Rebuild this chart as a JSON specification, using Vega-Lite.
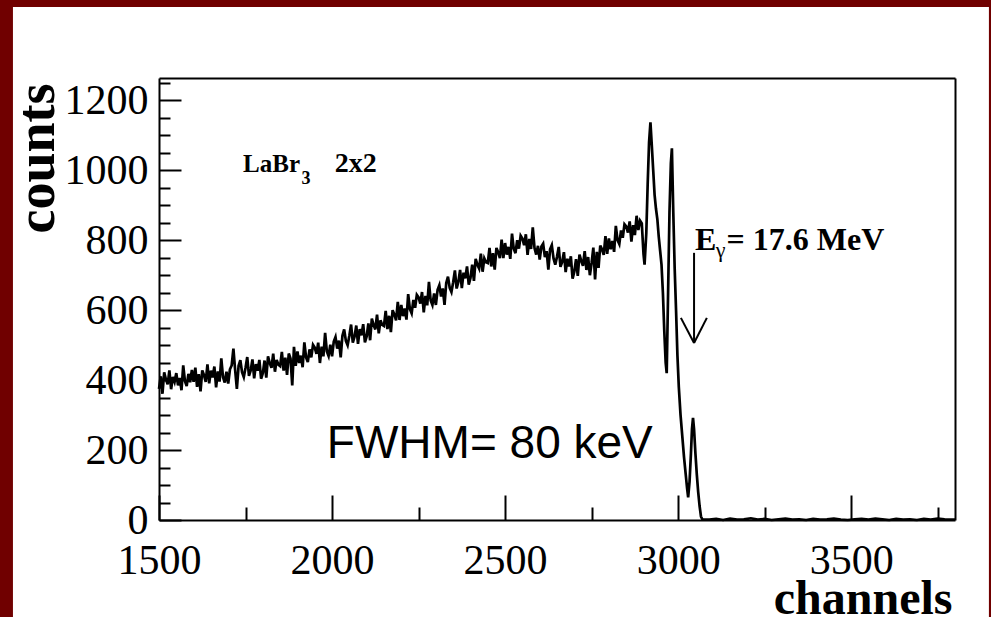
{
  "$schema": "https://vega.github.io/schema/vega-lite/v6.json",
  "width": 796,
  "height": 442,
  "autosize": "none",
  "padding": {"left": 159, "top": 78, "right": 36, "bottom": 97},
  "background": "#700000",
  "config": {
    "view": {"stroke": null},
    "axis": {
      "grid": false,
      "domainColor": "black",
      "tickColor": "black",
      "labelColor": "black",
      "titleColor": "black",
      "domainWidth": 2,
      "tickWidth": 2,
      "labelFont": "Liberation Serif",
      "labelFontSize": 42,
      "labelFlush": false,
      "labelOverlap": false,
      "titleFont": "Liberation Serif",
      "titleFontWeight": "bold"
    }
  },
  "datasets": {
    "spectrum": [
      {"ch":1500,"n":375},{"ch":1505,"n":411},{"ch":1510,"n":361},{"ch":1515,"n":422},{"ch":1520,"n":402},{"ch":1525,"n":388},{"ch":1530,"n":428},{"ch":1535,"n":374},{"ch":1540,"n":409},{"ch":1545,"n":395},
      {"ch":1550,"n":420},{"ch":1555,"n":385},{"ch":1560,"n":406},{"ch":1565,"n":371},{"ch":1570,"n":442},{"ch":1575,"n":397},{"ch":1580,"n":383},{"ch":1585,"n":418},{"ch":1590,"n":394},{"ch":1595,"n":429},
      {"ch":1600,"n":395},{"ch":1605,"n":436},{"ch":1610,"n":381},{"ch":1615,"n":417},{"ch":1620,"n":368},{"ch":1625,"n":428},{"ch":1630,"n":414},{"ch":1635,"n":395},{"ch":1640,"n":445},{"ch":1645,"n":391},
      {"ch":1650,"n":427},{"ch":1655,"n":408},{"ch":1660,"n":439},{"ch":1665,"n":379},{"ch":1670,"n":425},{"ch":1675,"n":396},{"ch":1680,"n":462},{"ch":1685,"n":408},{"ch":1690,"n":393},{"ch":1695,"n":424},
      {"ch":1700,"n":390},{"ch":1705,"n":431},{"ch":1710,"n":442},{"ch":1715,"n":490},{"ch":1720,"n":429},{"ch":1725,"n":375},{"ch":1730,"n":441},{"ch":1735,"n":457},{"ch":1740,"n":423},{"ch":1745,"n":409},
      {"ch":1750,"n":435},{"ch":1755,"n":466},{"ch":1760,"n":412},{"ch":1765,"n":428},{"ch":1770,"n":459},{"ch":1775,"n":405},{"ch":1780,"n":446},{"ch":1785,"n":427},{"ch":1790,"n":458},{"ch":1795,"n":404},
      {"ch":1800,"n":420},{"ch":1805,"n":456},{"ch":1810,"n":407},{"ch":1815,"n":468},{"ch":1820,"n":449},{"ch":1825,"n":435},{"ch":1830,"n":476},{"ch":1835,"n":424},{"ch":1840,"n":458},{"ch":1845,"n":444},
      {"ch":1850,"n":440},{"ch":1855,"n":481},{"ch":1860,"n":427},{"ch":1865,"n":464},{"ch":1870,"n":415},{"ch":1875,"n":476},{"ch":1880,"n":462},{"ch":1885,"n":385},{"ch":1890,"n":495},{"ch":1895,"n":441},
      {"ch":1900,"n":482},{"ch":1905,"n":449},{"ch":1910,"n":470},{"ch":1915,"n":437},{"ch":1920,"n":508},{"ch":1925,"n":465},{"ch":1930,"n":452},{"ch":1935,"n":488},{"ch":1940,"n":465},{"ch":1945,"n":501},
      {"ch":1950,"n":493},{"ch":1955,"n":475},{"ch":1960,"n":507},{"ch":1965,"n":449},{"ch":1970,"n":496},{"ch":1975,"n":468},{"ch":1980,"n":535},{"ch":1985,"n":482},{"ch":1990,"n":469},{"ch":1995,"n":501},
      {"ch":2000,"n":468},{"ch":2005,"n":510},{"ch":2010,"n":523},{"ch":2015,"n":490},{"ch":2020,"n":513},{"ch":2025,"n":465},{"ch":2030,"n":527},{"ch":2035,"n":545},{"ch":2040,"n":512},{"ch":2045,"n":500},
      {"ch":2050,"n":527},{"ch":2055,"n":559},{"ch":2060,"n":507},{"ch":2065,"n":524},{"ch":2070,"n":556},{"ch":2075,"n":504},{"ch":2080,"n":546},{"ch":2085,"n":528},{"ch":2090,"n":560},{"ch":2095,"n":508},
      {"ch":2100,"n":525},{"ch":2105,"n":562},{"ch":2110,"n":514},{"ch":2115,"n":576},{"ch":2120,"n":558},{"ch":2125,"n":545},{"ch":2130,"n":587},{"ch":2135,"n":534},{"ch":2140,"n":571},{"ch":2145,"n":558},
      {"ch":2150,"n":555},{"ch":2155,"n":598},{"ch":2160,"n":546},{"ch":2165,"n":584},{"ch":2170,"n":537},{"ch":2175,"n":600},{"ch":2180,"n":588},{"ch":2185,"n":571},{"ch":2190,"n":624},{"ch":2195,"n":572},
      {"ch":2200,"n":615},{"ch":2205,"n":583},{"ch":2210,"n":605},{"ch":2215,"n":573},{"ch":2220,"n":646},{"ch":2225,"n":603},{"ch":2230,"n":591},{"ch":2235,"n":629},{"ch":2240,"n":607},{"ch":2245,"n":644},
      {"ch":2250,"n":637},{"ch":2255,"n":619},{"ch":2260,"n":652},{"ch":2265,"n":594},{"ch":2270,"n":641},{"ch":2275,"n":614},{"ch":2280,"n":681},{"ch":2285,"n":628},{"ch":2290,"n":615},{"ch":2295,"n":648},
      {"ch":2300,"n":615},{"ch":2305,"n":658},{"ch":2310,"n":671},{"ch":2315,"n":639},{"ch":2320,"n":662},{"ch":2325,"n":615},{"ch":2330,"n":678},{"ch":2335,"n":696},{"ch":2340,"n":664},{"ch":2345,"n":652},
      {"ch":2350,"n":680},{"ch":2355,"n":714},{"ch":2360,"n":662},{"ch":2365,"n":681},{"ch":2370,"n":715},{"ch":2375,"n":663},{"ch":2380,"n":707},{"ch":2385,"n":691},{"ch":2390,"n":725},{"ch":2395,"n":673},
      {"ch":2400,"n":692},{"ch":2405,"n":730},{"ch":2410,"n":684},{"ch":2415,"n":747},{"ch":2420,"n":730},{"ch":2425,"n":719},{"ch":2430,"n":762},{"ch":2435,"n":710},{"ch":2440,"n":748},{"ch":2445,"n":737},
      {"ch":2450,"n":735},{"ch":2455,"n":778},{"ch":2460,"n":725},{"ch":2465,"n":763},{"ch":2470,"n":716},{"ch":2475,"n":778},{"ch":2480,"n":766},{"ch":2485,"n":749},{"ch":2490,"n":802},{"ch":2495,"n":749},
      {"ch":2500,"n":792},{"ch":2505,"n":759},{"ch":2510,"n":781},{"ch":2515,"n":747},{"ch":2520,"n":819},{"ch":2525,"n":776},{"ch":2530,"n":763},{"ch":2535,"n":800},{"ch":2540,"n":776},{"ch":2545,"n":813},
      {"ch":2550,"n":805},{"ch":2555,"n":786},{"ch":2560,"n":817},{"ch":2565,"n":758},{"ch":2570,"n":804},{"ch":2575,"n":775},{"ch":2580,"n":837},{"ch":2585,"n":778},{"ch":2590,"n":759},{"ch":2595,"n":784},
      {"ch":2600,"n":745},{"ch":2605,"n":782},{"ch":2610,"n":790},{"ch":2615,"n":752},{"ch":2620,"n":769},{"ch":2625,"n":716},{"ch":2630,"n":774},{"ch":2635,"n":786},{"ch":2640,"n":748},{"ch":2645,"n":730},
      {"ch":2650,"n":753},{"ch":2655,"n":781},{"ch":2660,"n":724},{"ch":2665,"n":738},{"ch":2670,"n":766},{"ch":2675,"n":709},{"ch":2680,"n":747},{"ch":2685,"n":725},{"ch":2690,"n":754},{"ch":2695,"n":690},
      {"ch":2700,"n":710},{"ch":2705,"n":746},{"ch":2710,"n":698},{"ch":2715,"n":759},{"ch":2720,"n":741},{"ch":2725,"n":727},{"ch":2730,"n":769},{"ch":2735,"n":715},{"ch":2740,"n":752},{"ch":2745,"n":700},
      {"ch":2750,"n":735},{"ch":2755,"n":779},{"ch":2760,"n":688},{"ch":2765,"n":767},{"ch":2770,"n":721},{"ch":2775,"n":785},{"ch":2780,"n":774},{"ch":2785,"n":758},{"ch":2790,"n":812},{"ch":2795,"n":761},
      {"ch":2800,"n":805},{"ch":2805,"n":774},{"ch":2810,"n":798},{"ch":2815,"n":767},{"ch":2820,"n":841},{"ch":2825,"n":800},{"ch":2830,"n":789},{"ch":2835,"n":828},{"ch":2840,"n":807},{"ch":2845,"n":846},
      {"ch":2850,"n":840},{"ch":2855,"n":822},{"ch":2860,"n":854},{"ch":2865,"n":796},{"ch":2870,"n":843},{"ch":2875,"n":815},{"ch":2880,"n":870},{"ch":2885,"n":829},{"ch":2890,"n":856},{"ch":2895,"n":848},
      {"ch":2900,"n":760},{"ch":2903,"n":730},{"ch":2908,"n":820},{"ch":2912,"n":960},{"ch":2916,"n":1080},{"ch":2920,"n":1137},{"ch":2924,"n":1070},{"ch":2928,"n":1000},{"ch":2932,"n":930},{"ch":2936,"n":890},
      {"ch":2940,"n":860},{"ch":2944,"n":810},{"ch":2948,"n":770},{"ch":2952,"n":730},{"ch":2956,"n":650},{"ch":2960,"n":540},{"ch":2964,"n":450},{"ch":2967,"n":420},{"ch":2971,"n":650},{"ch":2975,"n":880},
      {"ch":2979,"n":1020},{"ch":2982,"n":1063},{"ch":2986,"n":880},{"ch":2990,"n":720},{"ch":2994,"n":600},{"ch":2998,"n":470},{"ch":3002,"n":380},{"ch":3007,"n":300},{"ch":3012,"n":240},{"ch":3017,"n":180},
      {"ch":3022,"n":130},{"ch":3026,"n":90},{"ch":3029,"n":65},{"ch":3033,"n":110},{"ch":3037,"n":190},{"ch":3040,"n":260},{"ch":3043,"n":292},{"ch":3046,"n":260},{"ch":3050,"n":190},{"ch":3054,"n":130},
      {"ch":3058,"n":80},{"ch":3062,"n":40},{"ch":3066,"n":10},{"ch":3070,"n":2},{"ch":3090,"n":1},{"ch":3110,"n":3},{"ch":3130,"n":0},{"ch":3150,"n":4},{"ch":3170,"n":1},{"ch":3190,"n":2},
      {"ch":3210,"n":5},{"ch":3230,"n":1},{"ch":3250,"n":3},{"ch":3270,"n":0},{"ch":3290,"n":2},{"ch":3310,"n":4},{"ch":3330,"n":1},{"ch":3350,"n":2},{"ch":3370,"n":0},{"ch":3390,"n":3},
      {"ch":3410,"n":1},{"ch":3430,"n":2},{"ch":3450,"n":4},{"ch":3470,"n":1},{"ch":3490,"n":0},{"ch":3510,"n":2},{"ch":3530,"n":3},{"ch":3550,"n":1},{"ch":3570,"n":4},{"ch":3590,"n":2},
      {"ch":3610,"n":0},{"ch":3630,"n":3},{"ch":3650,"n":1},{"ch":3670,"n":2},{"ch":3690,"n":0},{"ch":3710,"n":3},{"ch":3730,"n":1},{"ch":3750,"n":4},{"ch":3770,"n":2},{"ch":3790,"n":1},{"ch":3800,"n":1}
    ]
  },
  "layer": [
    {
      "data": {"values": [{}]},
      "mark": {"type": "rect", "fill": "white", "clip": false},
      "encoding": {
        "x": {"datum": 1078, "type": "quantitative", "scale": {"domain": [1500, 3800], "nice": false, "zero": false},
              "axis": {"orient": "top", "ticks": false, "labels": false, "title": null, "domain": true, "zindex": 1}},
        "x2": {"datum": 3898},
        "y": {"datum": 1467, "type": "quantitative", "scale": {"domain": [0, 1264], "nice": false, "zero": false},
              "axis": {"orient": "right", "ticks": false, "labels": false, "title": null, "domain": true, "zindex": 1}},
        "y2": {"datum": -400}
      }
    },
    {
      "data": {"name": "spectrum"},
      "mark": {"type": "line", "color": "black", "strokeWidth": 2.7},
      "encoding": {
        "x": {"field": "ch", "type": "quantitative", "scale": {"domain": [1500, 3800], "nice": false, "zero": false},
              "axis": {"orient": "bottom", "values": [1500, 2000, 2500, 3000, 3500], "format": "d", "tickSize": -25, "labelPadding": 45,
                       "title": "channels", "titleFontSize": 48, "titleX": 793, "titleY": 93, "titleAlign": "right",
                       "titleBaseline": "alphabetic", "titleAngle": 0, "zindex": 1}},
        "y": {"field": "n", "type": "quantitative", "scale": {"domain": [0, 1264], "nice": false, "zero": false},
              "axis": {"orient": "left", "values": [0, 200, 400, 600, 800, 1000, 1200], "format": "d", "tickSize": -22, "labelPadding": 33,
                       "title": "counts", "titleFontSize": 54, "titleX": -106, "titleY": 5, "titleAlign": "right",
                       "titleBaseline": "alphabetic", "titleAngle": 270, "zindex": 1}}
      }
    },
    {
      "data": {"values": [{}]},
      "mark": {"type": "rule", "color": "black", "strokeWidth": 2},
      "encoding": {
        "x": {"datum": 3046, "type": "quantitative", "scale": {"domain": [1500, 3800], "nice": false, "zero": false},
              "axis": {"orient": "bottom", "values": [1750, 2250, 2750, 3250, 3750], "tickSize": -13, "labels": false,
                       "domain": false, "title": null, "zindex": 1}},
        "y": {"datum": 764, "type": "quantitative", "scale": {"domain": [0, 1264], "nice": false, "zero": false},
              "axis": {"orient": "left", "values": [50, 100, 150, 250, 300, 350, 450, 500, 550, 650, 700, 750, 850, 900, 950, 1050, 1100, 1150, 1250],
                       "tickSize": -11, "labels": false, "domain": false, "title": null, "zindex": 1}},
        "y2": {"datum": 506}
      }
    },
    {
      "data": {"values": [{}]},
      "mark": {"type": "rule", "color": "black", "strokeWidth": 2},
      "encoding": {
        "x": {"datum": 3008, "type": "quantitative", "axis": null},
        "y": {"datum": 578, "type": "quantitative", "axis": null},
        "x2": {"datum": 3046},
        "y2": {"datum": 506}
      }
    },
    {
      "data": {"values": [{}]},
      "mark": {"type": "rule", "color": "black", "strokeWidth": 2},
      "encoding": {
        "x": {"datum": 3083, "type": "quantitative", "axis": null},
        "y": {"datum": 578, "type": "quantitative", "axis": null},
        "x2": {"datum": 3046},
        "y2": {"datum": 506}
      }
    },
    {
      "data": {"values": [{}]},
      "mark": {"type": "text", "text": "LaBr", "font": "Liberation Serif", "fontWeight": "bold", "fontSize": 25, "align": "left", "baseline": "alphabetic", "color": "black"},
      "encoding": {
        "x": {"datum": 1743, "type": "quantitative", "axis": null},
        "y": {"datum": 995, "type": "quantitative", "axis": null}
      }
    },
    {
      "data": {"values": [{}]},
      "mark": {"type": "text", "text": "3", "font": "Liberation Serif", "fontWeight": "bold", "fontSize": 18, "align": "left", "baseline": "alphabetic", "color": "black"},
      "encoding": {
        "x": {"datum": 1912, "type": "quantitative", "axis": null},
        "y": {"datum": 962, "type": "quantitative", "axis": null}
      }
    },
    {
      "data": {"values": [{}]},
      "mark": {"type": "text", "text": "2x2", "font": "Liberation Serif", "fontWeight": "bold", "fontSize": 28, "align": "left", "baseline": "alphabetic", "color": "black"},
      "encoding": {
        "x": {"datum": 2008, "type": "quantitative", "axis": null},
        "y": {"datum": 995, "type": "quantitative", "axis": null}
      }
    },
    {
      "data": {"values": [{}]},
      "mark": {"type": "text", "text": "E", "font": "Liberation Serif", "fontWeight": "bold", "fontSize": 32, "align": "left", "baseline": "alphabetic", "color": "black"},
      "encoding": {
        "x": {"datum": 3049, "type": "quantitative", "axis": null},
        "y": {"datum": 772, "type": "quantitative", "axis": null}
      }
    },
    {
      "data": {"values": [{}]},
      "mark": {"type": "text", "text": "γ", "font": "Liberation Serif", "fontSize": 22, "align": "left", "baseline": "alphabetic", "color": "black"},
      "encoding": {
        "x": {"datum": 3109, "type": "quantitative", "axis": null},
        "y": {"datum": 752, "type": "quantitative", "axis": null}
      }
    },
    {
      "data": {"values": [{}]},
      "mark": {"type": "text", "text": "= 17.6 MeV", "font": "Liberation Serif", "fontWeight": "bold", "fontSize": 32, "align": "left", "baseline": "alphabetic", "color": "black"},
      "encoding": {
        "x": {"datum": 3140, "type": "quantitative", "axis": null},
        "y": {"datum": 772, "type": "quantitative", "axis": null}
      }
    },
    {
      "data": {"values": [{}]},
      "mark": {"type": "text", "text": "FWHM= 80 keV", "font": "Liberation Sans", "fontSize": 46, "align": "left", "baseline": "alphabetic", "color": "black"},
      "encoding": {
        "x": {"datum": 1985, "type": "quantitative", "axis": null},
        "y": {"datum": 177, "type": "quantitative", "axis": null}
      }
    }
  ],
  "resolve": {"axis": {"x": "independent", "y": "independent"}}
}
